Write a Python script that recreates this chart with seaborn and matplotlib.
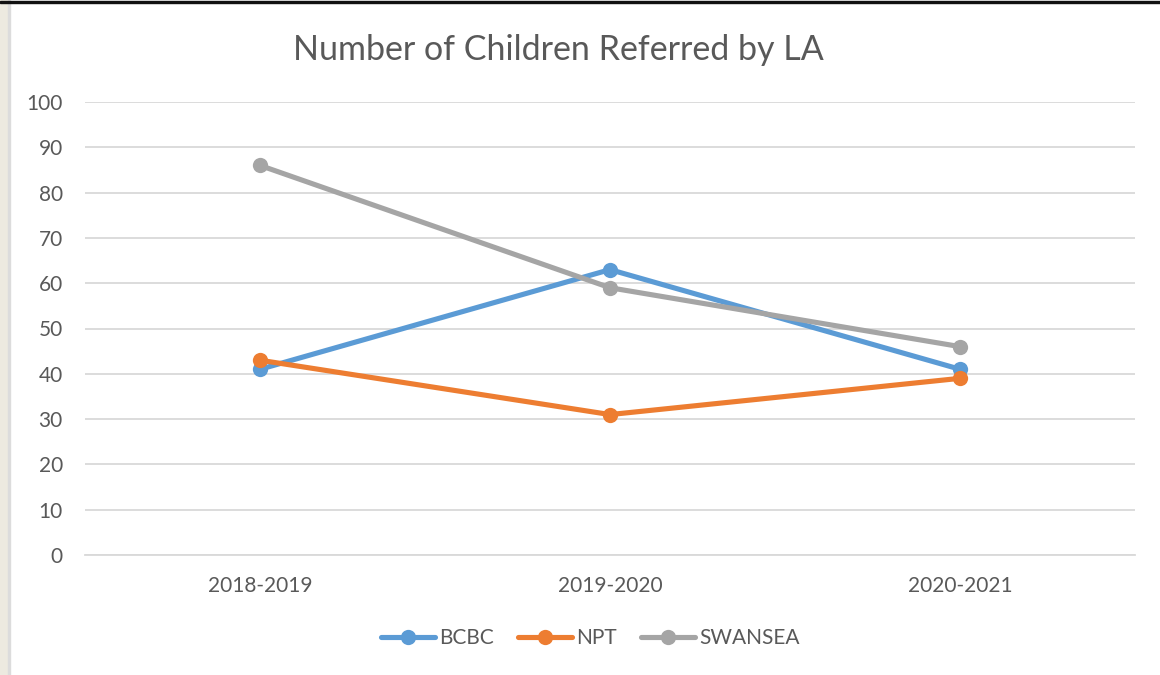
import matplotlib
matplotlib.use("Agg")
import matplotlib.pyplot as plt
import seaborn as sns
import pandas as pd
from matplotlib.patches import Rectangle
from matplotlib.lines import Line2D

# ========== Chart data ==========
years = ["2018-2019", "2019-2020", "2020-2021"]
bcbc = [41, 63, 41]
npt = [43, 31, 39]
swansea = [86, 59, 46]
series_names = ["BCBC", "NPT", "SWANSEA"]
colors = ["#5B9BD5", "#ED7D31", "#A5A5A5"]
y_ticks = list(range(0, 101, 10))

df = pd.DataFrame({"year": years, "BCBC": bcbc, "NPT": npt, "SWANSEA": swansea})
long_df = df.melt(id_vars="year", var_name="LA", value_name="children")

sns.set_theme(style="white")
plt.rcParams["font.family"] = ["Lato", "DejaVu Sans"]

fig = plt.figure(figsize=(11.6, 6.75), dpi=100)
ax = fig.add_axes([85 / 1160, 1 - 555 / 675, 1050 / 1160, 453 / 675])

# window frame bits around the chart
fig.patches.append(Rectangle((0, 0), 8 / 1160, 1, transform=fig.transFigure,
                             color="#EDEAE0", zorder=0))
fig.patches.append(Rectangle((8 / 1160, 0), 2 / 1160, 1, transform=fig.transFigure,
                             color="#DCDCDC", zorder=0))
fig.patches.append(Rectangle((0, 1 - 3 / 675), 1, 2 / 675, transform=fig.transFigure,
                             color="#111111", zorder=0))

LW = 3.7
MS = 11

long_df["x"] = long_df["year"].map({y: i for i, y in enumerate(years)})
sns.lineplot(data=long_df, x="x", y="children", hue="LA", hue_order=series_names,
             palette=colors, linewidth=LW, marker="o", markersize=MS,
             markeredgewidth=0, ax=ax, legend=False, zorder=3)

ax.set_xlim(-0.5, 2.5)
ax.set_ylim(0, 100)
ax.set_yticks(y_ticks)
ax.set_xticks(range(len(years)))
ax.set_xticklabels(years)
ax.set_xlabel("")
ax.set_ylabel("")
ax.grid(axis="y", color="#D9D9D9", linewidth=1.3)
ax.set_axisbelow(True)
for s in ax.spines.values():
    s.set_visible(False)
ax.spines["bottom"].set_visible(True)
ax.spines["bottom"].set_color("#D9D9D9")
ax.spines["bottom"].set_linewidth(1.3)
ax.tick_params(axis="both", length=0, labelsize=15, labelcolor="#595959")
ax.tick_params(axis="y", pad=16)
ax.tick_params(axis="x", pad=15)

fig.text(558 / 1160, 1 - 50 / 675, "Number of Children Referred by LA",
         ha="center", va="center", fontsize=24.5, color="#595959")

handles = [Line2D([0], [0], color=c, linewidth=LW, marker="o", markersize=MS,
                  markeredgewidth=0, solid_capstyle="round") for c in colors]
fig.legend(handles, series_names, loc="center", bbox_to_anchor=(590 / 1160, 1 - 638 / 675),
           ncol=3, frameon=False, fontsize=15, labelcolor="#595959",
           handlelength=2.6, handletextpad=0.2, columnspacing=1.15)

fig.savefig("out.png", dpi=100, facecolor="white")
